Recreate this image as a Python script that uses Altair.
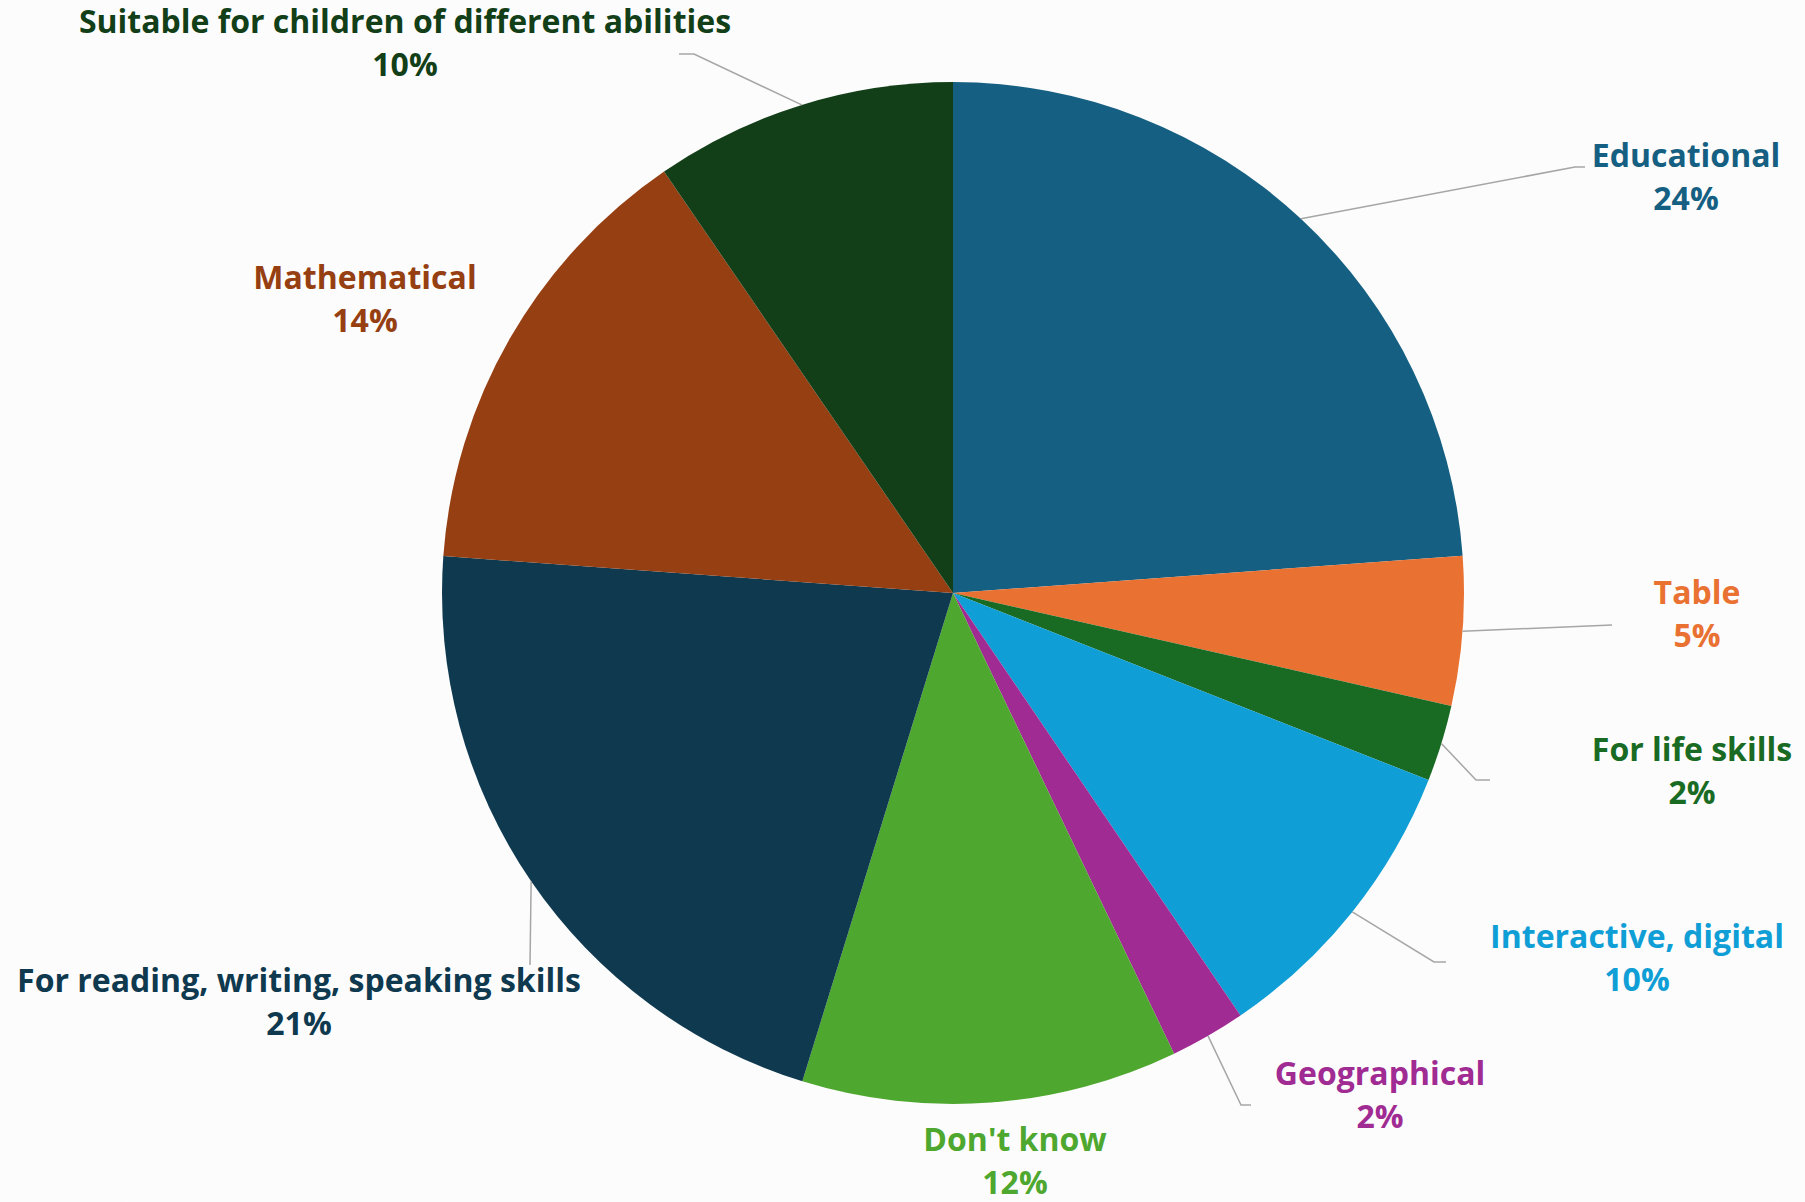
import math
import altair as alt
import pandas as pd

# ---------------- data ----------------
categories = [
    "Educational",
    "Table",
    "For life skills",
    "Interactive, digital",
    "Geographical",
    "Don't know",
    "For reading, writing, speaking skills",
    "Mathematical",
    "Suitable for children of different abilities",
]
shares = [23.85, 4.71, 2.42, 9.53, 2.39, 11.89, 21.40, 14.29, 9.57]
pct_labels = ["24%", "5%", "2%", "10%", "2%", "12%", "21%", "14%", "10%"]

# ---------------- style / layout ----------------
colors = ["#156082", "#E97132", "#196B24", "#0F9ED5", "#A02B93",
          "#4EA72E", "#0E394F", "#963F12", "#123F18"]
W, H = 1805, 1202
CX, CY, R = 953, 593, 511
FONT = "Open Sans"
FSIZE = 32
LINE_GAP = 43

# label centre x and first-line baseline y (Excel-style placement)
label_pos = {
    "Educational": (1686, 167),
    "Table": (1697, 604),
    "For life skills": (1692, 761),
    "Interactive, digital": (1637, 948),
    "Geographical": (1380, 1085),
    "Don't know": (1015, 1151),
    "For reading, writing, speaking skills": (299, 992),
    "Mathematical": (365, 289),
    "Suitable for children of different abilities": (405, 33),
}
# leader-line bend points (after the anchor on the pie edge)
leader_bends = {
    "Educational": [(1575, 167), (1585, 167)],
    "Table": [(1612, 625)],
    "For life skills": [(1476, 780), (1490, 780)],
    "Interactive, digital": [(1434, 962), (1446, 962)],
    "Geographical": [(1241, 1105), (1251, 1105)],
    "For reading, writing, speaking skills": [(530, 965)],
    "Suitable for children of different abilities": [(694, 54), (679, 54)],
}

color_scale = alt.Scale(domain=categories, range=colors)

df = pd.DataFrame({"category": categories, "share": shares,
                   "idx": list(range(len(categories)))})

# anchors at the mid angle of each slice on the rim
total = sum(shares)
cum = 0.0
line_rows = []
for cat, v in zip(categories, shares):
    mid = (cum + v / 2) / total * 2 * math.pi
    cum += v
    if cat in leader_bends:
        ax = CX + R * math.sin(mid)
        ay = CY - R * math.cos(mid)
        pts = [(ax, ay)] + leader_bends[cat]
        for s, (px, py) in enumerate(pts):
            line_rows.append({"category": cat, "seq": s, "x": px, "y": py})
line_df = pd.DataFrame(line_rows)

lab_df = pd.DataFrame({
    "category": categories,
    "pct": pct_labels,
    "lx": [label_pos[c][0] for c in categories],
    "ly": [label_pos[c][1] for c in categories],
})
lab_df["ly2"] = lab_df["ly"] + LINE_GAP

shadow_df = pd.DataFrame({"r": list(range(R + 1, R + 15))})

shadow = alt.Chart(shadow_df).mark_arc(
    theta=0, theta2=2 * math.pi, color="black", opacity=0.012
).encode(
    radius=alt.Radius("r:Q", scale=None),
    x=alt.value(CX), y=alt.value(CY),
)

pie = alt.Chart(df).mark_arc(outerRadius=R).encode(
    theta=alt.Theta("share:Q", stack=True),
    order=alt.Order("idx:Q"),
    color=alt.Color("category:N", scale=color_scale, legend=None),
    x=alt.value(CX), y=alt.value(CY),
)

lines = alt.Chart(line_df).mark_line(color="#A6A6A6", strokeWidth=1.5).encode(
    x=alt.X("x:Q", scale=None, axis=None),
    y=alt.Y("y:Q", scale=None, axis=None),
    detail="category:N",
    order="seq:Q",
)

name_text = alt.Chart(lab_df).mark_text(
    font=FONT, fontWeight="bold", fontSize=FSIZE, align="center", baseline="alphabetic"
).encode(
    x=alt.X("lx:Q", scale=None, axis=None),
    y=alt.Y("ly:Q", scale=None, axis=None),
    text="category:N",
    color=alt.Color("category:N", scale=color_scale, legend=None),
)

pct_text = alt.Chart(lab_df).mark_text(
    font=FONT, fontWeight="bold", fontSize=FSIZE, align="center", baseline="alphabetic"
).encode(
    x=alt.X("lx:Q", scale=None, axis=None),
    y=alt.Y("ly2:Q", scale=None, axis=None),
    text="pct:N",
    color=alt.Color("category:N", scale=color_scale, legend=None),
)

chart = alt.layer(shadow, pie, lines, name_text, pct_text).properties(
    width=W, height=H, padding=0,
    autosize=alt.AutoSizeParams(type="none"),
    background="white",
).configure_view(stroke=None)

chart.save("out.html", embed_options={"renderer": "svg", "actions": False})
